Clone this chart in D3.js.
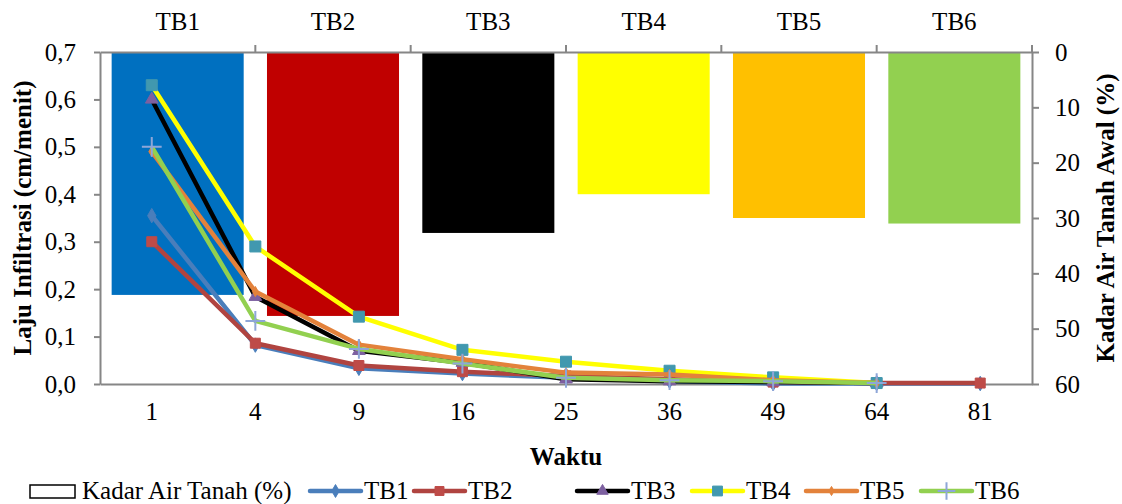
<!DOCTYPE html>
<html>
<head>
<meta charset="utf-8">
<script src="https://cdn.jsdelivr.net/npm/d3@7"></script>
<style>
  body { margin: 0; background: #fff; }
  svg text { font-family: "Liberation Serif", "Times New Roman", serif !important; fill: #000; }
</style>
</head>
<body>
<svg id="svg" width="1122" height="504"></svg>
<script>
// categories
const waktu = ["1", "4", "9", "16", "25", "36", "49", "64", "81"];
const barLabels = ["TB1", "TB2", "TB3", "TB4", "TB5", "TB6"];
// initial soil water content (%)
const kadarAir = [43.9, 47.7, 32.7, 25.7, 30.0, 31.0];
// infiltration rate (cm/menit)
const tb1 = [0.355, 0.082, 0.033, 0.022, 0.013, 0.006, 0.001, 0.001, 0.001];
const tb2 = [0.300, 0.086, 0.039, 0.026, 0.017, 0.010, 0.004, 0.002, 0.002];
const tb3 = [0.600, 0.184, 0.070, 0.045, 0.010, 0.006, 0.004, 0.002, null];
const tb4 = [0.630, 0.290, 0.142, 0.072, 0.047, 0.028, 0.014, 0.002, null];
const tb5 = [0.490, 0.195, 0.083, 0.052, 0.024, 0.020, 0.008, 0.002, null];
const tb6 = [0.500, 0.133, 0.074, 0.043, 0.013, 0.008, 0.006, 0.002, null];
const leftTicks = [0, 0.1, 0.2, 0.3, 0.4, 0.5, 0.6, 0.7];
const rightTicks = [0, 10, 20, 30, 40, 50, 60];

const barColors = ["#0070c0", "#c00000", "#000000", "#ffff00", "#ffc000", "#92d050"];
const series = [
  { name: "TB1", values: tb1, line: "#4a7ebb", marker: "#4a7ebb", sym: d3.symbolDiamond, size: 60 },
  { name: "TB2", values: tb2, line: "#b04440", marker: "#be4b48", sym: d3.symbolSquare, size: 100 },
  { name: "TB3", values: tb3, line: "#000000", marker: "#7d60a0", sym: d3.symbolTriangle, size: 70 },
  { name: "TB4", values: tb4, line: "#ffff00", marker: "#4198af", sym: d3.symbolSquare, size: 121 },
  { name: "TB5", values: tb5, line: "#e3823b", marker: "#e3823b", sym: d3.symbolDiamond, size: 30 },
  { name: "TB6", values: tb6, line: "#92d050", marker: "#8ea6d8", sym: d3.symbolPlus, size: 130, stroke: true }
];

const margin = { left: 100, right: 90, top: 52, bottom: 120 };
const W = 1122, H = 504;
const FS = "25px";
const svg = d3.select("#svg");
const x0 = margin.left, x1 = W - margin.right, y0 = H - margin.bottom, y1 = margin.top;

const xBar = d3.scaleBand().domain(barLabels).range([x0, x1]).paddingInner(0.15).paddingOuter(0.075);
const xBarEdge = d3.scaleBand().domain(barLabels).range([x0, x1]);
const xCat = d3.scaleBand().domain(waktu).range([x0, x1]);
const yL = d3.scaleLinear().domain([0, 0.7]).range([y0, y1]);
const yR = d3.scaleLinear().domain([0, 60]).range([y1, y0]);

const axisColor = "#868686";

// bars hanging from the top (reversed secondary axis)
svg.append("g").selectAll("rect")
  .data(kadarAir)
  .enter()
  .append("rect")
  .attr("x", (d, i) => xBar(barLabels[i]))
  .attr("width", xBar.bandwidth())
  .attr("y", yR(0))
  .attr("height", d => yR(d) - yR(0))
  .attr("fill", (d, i) => barColors[i]);

// axes
function styleAxis(g) {
  g.selectAll(".domain").attr("stroke", axisColor).attr("stroke-width", 2);
  g.selectAll(".tick line").attr("stroke", axisColor).attr("stroke-width", 2);
  g.selectAll(".tick text").style("font-size", FS);
}

const gLeft = svg.append("g").attr("transform", `translate(${x0},0)`)
  .call(d3.axisLeft(yL).tickValues(leftTicks).tickSize(6).tickPadding(18).tickSizeOuter(0)
    .tickFormat(d => d3.format(".1f")(d).replace(".", ",")));
styleAxis(gLeft);

const gRight = svg.append("g").attr("transform", `translate(${x1},0)`)
  .call(d3.axisRight(yR).tickValues(rightTicks).tickSize(7).tickPadding(16).tickSizeOuter(0));
styleAxis(gRight);

const gBottom = svg.append("g").attr("transform", `translate(0,${y0})`)
  .call(d3.axisBottom(xCat).tickSize(0).tickPadding(18).tickSizeOuter(0));
styleAxis(gBottom);

const gTop = svg.append("g").attr("transform", `translate(0,${y1})`)
  .call(d3.axisTop(xBar).tickSize(0).tickPadding(22).tickSizeOuter(0));
styleAxis(gTop);
// tick marks between the bar categories
gTop.selectAll(".edge")
  .data(barLabels)
  .enter()
  .append("line")
  .attr("x1", d => xBarEdge(d) + xBarEdge.step())
  .attr("x2", d => xBarEdge(d) + xBarEdge.step())
  .attr("y1", 0).attr("y2", -7)
  .attr("stroke", axisColor).attr("stroke-width", 2);

// lines
const line = d3.line()
  .defined(d => d != null)
  .x((d, i) => xCat(waktu[i]) + xCat.bandwidth() / 2)
  .y(d => yL(d));

series.forEach(s => {
  const g = svg.append("g");
  g.append("path")
    .datum(s.values)
    .attr("d", line)
    .attr("fill", "none")
    .attr("stroke", s.line)
    .attr("stroke-width", 4.5)
    .attr("stroke-linejoin", "round");
  g.selectAll(".m")
    .data(s.values.map((v, i) => ({ v, i })).filter(d => d.v != null))
    .enter()
    .append("path")
    .attr("transform", d => `translate(${xCat(waktu[d.i]) + xCat.bandwidth() / 2},${yL(d.v)})`)
    .attr("d", d3.symbol(s.sym, s.size))
    .attr("fill", s.stroke ? "none" : s.marker)
    .attr("stroke", s.marker)
    .attr("stroke-width", s.stroke ? 2 : 1);
});

// axis titles
svg.append("text")
  .attr("transform", `translate(31,${(y0 + y1) / 2}) rotate(-90)`)
  .attr("text-anchor", "middle")
  .style("font-size", FS).style("font-weight", "bold")
  .text("Laju Infiltrasi (cm/menit)");

svg.append("text")
  .attr("transform", `translate(1114,${(y0 + y1) / 2}) rotate(-90)`)
  .attr("text-anchor", "middle")
  .style("font-size", FS).style("font-weight", "bold")
  .text("Kadar Air Tanah Awal (%)");

svg.append("text")
  .attr("x", (x0 + x1) / 2).attr("y", 465)
  .attr("text-anchor", "middle")
  .style("font-size", FS).style("font-weight", "bold")
  .text("Waktu");

// legend
const legend = svg.append("g").attr("transform", "translate(0,491)");
legend.append("rect")
  .attr("x", 30).attr("y", -6).attr("width", 45).attr("height", 13)
  .attr("fill", "#fff").attr("stroke", "#000").attr("stroke-width", 1.5);
legend.append("text").attr("x", 82).attr("y", 8).style("font-size", FS).text("Kadar Air Tanah (%)");

const legX = [310, 414, 577, 692, 806, 921];
series.forEach((s, i) => {
  const g = legend.append("g").attr("transform", `translate(${legX[i]},0)`);
  g.append("line").attr("x1", 0).attr("x2", 51).attr("y1", 0).attr("y2", 0)
    .attr("stroke", s.line).attr("stroke-width", 4.5).attr("stroke-linecap", "round");
  g.append("path").attr("transform", "translate(25.5,0)")
    .attr("d", d3.symbol(s.sym, s.size * 0.8))
    .attr("fill", s.stroke ? "none" : s.marker)
    .attr("stroke", s.marker)
    .attr("stroke-width", s.stroke ? 2 : 1);
  g.append("text").attr("x", 54).attr("y", 8).style("font-size", FS).text(s.name);
});
</script>
</body>
</html>
